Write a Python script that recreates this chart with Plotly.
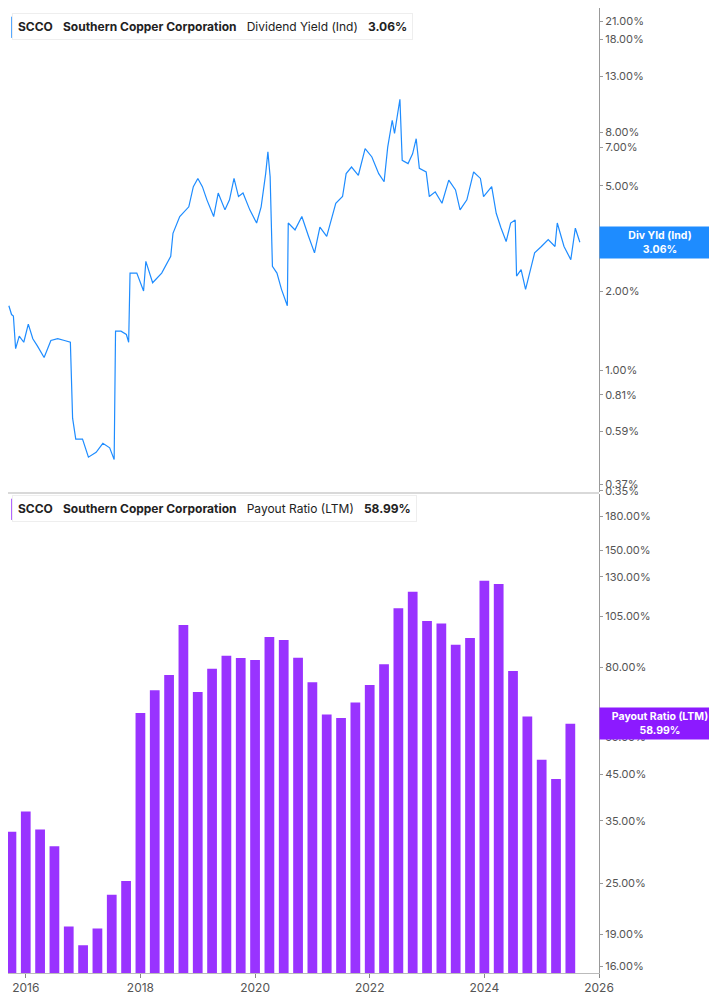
import plotly.graph_objects as go

# Dividend yield (Ind), %
yield_dates = [2015.705,2015.752,2015.784,2015.823,2015.886,2015.965,2016.044,2016.123,2016.202,2016.320,
2016.438,2016.557,2016.675,2016.778,2016.817,2016.872,2016.990,2017.093,2017.227,2017.345,2017.464,2017.542,
2017.566,2017.661,2017.755,2017.795,2017.819,2017.937,2018.055,2018.095,2018.213,2018.371,2018.529,2018.568,
2018.686,2018.844,2018.923,2019.002,2019.081,2019.160,2019.278,2019.357,2019.475,2019.554,2019.633,2019.711,
2019.790,2019.908,2020.027,2020.106,2020.185,2020.224,2020.263,2020.303,2020.382,2020.461,2020.563,2020.579,
2020.697,2020.816,2020.934,2021.037,2021.131,2021.250,2021.329,2021.408,2021.526,2021.589,2021.683,2021.802,
2021.920,2022.038,2022.157,2022.251,2022.314,2022.393,2022.433,2022.527,2022.567,2022.669,2022.748,2022.811,
2022.866,2022.985,2023.040,2023.143,2023.261,2023.379,2023.497,2023.576,2023.695,2023.813,2023.931,2023.986,
2024.128,2024.207,2024.286,2024.380,2024.459,2024.538,2024.562,2024.641,2024.719,2024.798,2024.877,2024.995,
2025.114,2025.232,2025.272,2025.390,2025.508,2025.587,2025.666]
yield_vals = [1.76,1.63,1.61,1.21,1.35,1.28,1.50,1.32,1.24,1.12,
1.30,1.32,1.30,1.28,0.66,0.55,0.55,0.47,0.49,0.53,0.51,0.46,
1.41,1.41,1.37,1.28,2.34,2.34,2.00,2.59,2.15,2.34,2.71,3.31,
3.83,4.17,4.97,5.34,4.97,4.43,3.83,4.70,4.06,4.43,5.34,4.56,
4.70,4.06,3.62,4.17,5.57,6.73,5.42,2.48,2.34,2.03,1.76,3.62,
3.41,3.83,3.22,2.79,3.49,3.22,3.72,4.30,4.56,5.57,5.90,5.49,
6.92,6.44,5.57,5.19,7.02,8.87,7.91,10.65,6.25,6.08,6.62,7.55,
5.83,5.65,4.56,4.75,4.30,5.26,4.83,4.06,4.43,5.65,5.34,4.56,
4.97,3.94,3.49,3.08,3.62,3.72,2.28,2.41,2.03,2.41,2.79,2.95,
3.13,2.95,3.62,2.95,2.63,3.46,3.06]

# Payout ratio (LTM), % quarterly
payout_dates = [2015.75 + 0.25 * i for i in range(40)]
payout_vals = [33.0,36.8,33.4,30.5,19.8,17.9,19.6,23.5,25.3,62.5,
70.6,76.7,100.3,70.0,79.3,85.0,84.0,83.1,94.1,92.6,
84.1,73.7,62.0,60.8,66.1,72.7,81.3,109.8,120.1,102.5,
101.2,90.2,93.6,127.4,125.1,78.4,61.3,48.6,43.8,58.99]

top_ticks = [0.35,0.37,0.59,0.81,1,2,3,5,7,8,13,18,21]
bot_ticks = [16,19,25,35,45,55,80,105,130,150,180]
x_ticks = [2016,2018,2020,2022,2024,2026]

BLUE = "#1e8cff"
PURPLE = "#9933ff"
FONT = "Inter"

fig = go.Figure()
fig.add_trace(go.Scatter(x=yield_dates, y=yield_vals, mode="lines",
                         line=dict(color=BLUE, width=1.2), xaxis="x", yaxis="y"))
fig.add_trace(go.Bar(x=payout_dates, y=payout_vals, marker=dict(color=PURPLE, line_width=0),
                     width=0.17, xaxis="x2", yaxis="y2"))

tickfont = dict(family=FONT, size=11, color="#555")
fig.update_layout(
    width=717, height=1005, showlegend=False,
    plot_bgcolor="white", paper_bgcolor="white",
    margin=dict(l=0, r=126, t=0, b=40, autoexpand=False),
    font=dict(family=FONT),
    xaxis=dict(domain=[0, 1], anchor="y", range=[2015.69, 2026], showticklabels=False,
               showgrid=False, zeroline=False, tickvals=x_ticks),
    xaxis2=dict(domain=[0, 1], anchor="y2", range=[2015.69, 2026], tickvals=x_ticks,
                ticktext=[str(t) for t in x_ticks], showgrid=False, zeroline=False,
                ticks="outside", ticklen=4, tickcolor="#888", showline=True, linecolor="#bbb",
                automargin=False, tickfont=dict(family=FONT, size=12, color="#555")),
    yaxis=dict(domain=[0.4985, 1], type="log", side="right", range=[-0.4597, 1.373],
               tickvals=top_ticks, ticktext=[f"{v:.2f}%" for v in top_ticks], automargin=False,
               showgrid=False, zeroline=False, showline=True, linecolor="#999",
               ticks="outside", ticklen=3, tickcolor="#999", tickfont=tickfont),
    yaxis2=dict(domain=[0, 0.496], type="log", side="right", range=[1.188, 2.307],
                tickvals=bot_ticks, ticktext=[f"{v:.2f}%" for v in bot_ticks], automargin=False,
                showgrid=False, zeroline=False, showline=True, linecolor="#999",
                ticks="outside", ticklen=3, tickcolor="#999", tickfont=tickfont),
)

# panel separator
fig.add_shape(type="line", xref="paper", yref="paper", x0=0, x1=1, y0=0.4975, y1=0.4975,
              line=dict(color="#ccc", width=1.5))

def header(y, ticker_text, metric, val, color):
    fig.add_annotation(xref="paper", yref="paper", x=0.0, y=y, xanchor="left", yanchor="top",
                       text=f"<b>{ticker_text}</b>   <b>Southern Copper Corporation</b>   {metric}   <b>{val}</b>",
                       showarrow=False, bgcolor="white", bordercolor="#eee", borderwidth=1,
                       borderpad=5, font=dict(family=FONT, size=12, color="#222"), xshift=4)
    fig.add_shape(type="rect", xref="paper", yref="paper", x0=0.0055, x1=0.0095,
                  y0=y - 0.026, y1=y - 0.004, fillcolor=color, line_width=0)

header(0.995, "SCCO", "Dividend Yield (Ind)", "3.06%", BLUE)
header(0.4985 - 0.003, "SCCO", "Payout Ratio (LTM)", "58.99%", PURPLE)

fig.add_annotation(xref="paper", yref="y", x=1.0, y=0.4857, xanchor="left", yanchor="middle",
                   text="<b>Div Yld (Ind)<br>3.06%</b>", showarrow=False, bgcolor=BLUE,
                   font=dict(family=FONT, size=10.5, color="white"), width=116, borderpad=2, align="center")
fig.add_annotation(xref="paper", yref="y2", x=1.0, y=1.7708, xanchor="left", yanchor="middle",
                   text="<b>Payout Ratio (LTM)<br>58.99%</b>", showarrow=False, bgcolor="#8c1aff",
                   font=dict(family=FONT, size=10.5, color="white"), width=116, borderpad=2, align="center")

fig.write_html("out.html")
